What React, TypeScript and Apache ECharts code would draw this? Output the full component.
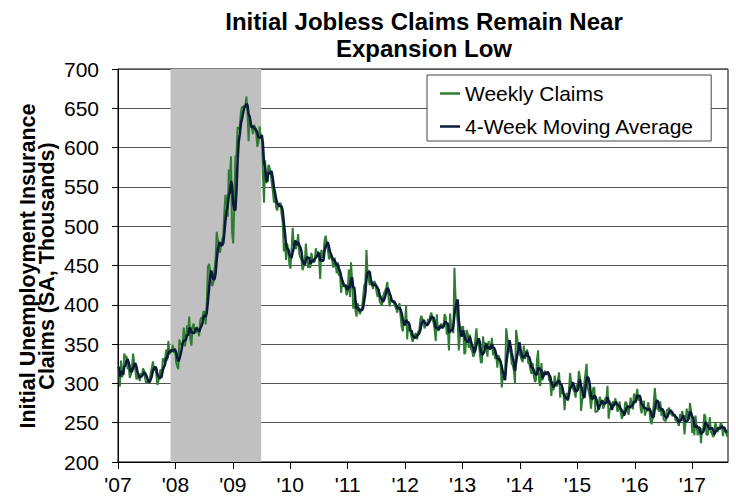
import React, { useEffect, useRef } from "react";
import * as echarts from "echarts";

// Weekly initial jobless claims (SA, thousands), week-ending Saturdays from 2007-01-06
const claims2007 = [321, 296, 329, 308, 312, 338, 332, 335, 318, 322, 307, 311, 321, 338, 326, 318, 305, 308, 311, 303, 313, 310, 319, 316, 306, 300, 303, 301, 303, 313, 320, 328, 316, 321, 313, 298, 303, 311, 318, 307, 332, 327, 330, 343, 329, 354, 337, 341, 340, 349, 339, 345];
const claims2008 = [327, 322, 318, 356, 349, 350, 349, 371, 347, 356, 374, 366, 385, 357, 348, 372, 376, 368, 364, 372, 367, 360, 380, 384, 382, 392, 390, 375, 404, 448, 452, 444, 431, 424, 429, 446, 459, 493, 482, 477, 466, 477, 483, 488, 519, 540, 533, 512, 572, 558, 589, 492];
const claims2009 = [478, 524, 588, 591, 626, 623, 627, 645, 652, 651, 654, 652, 665, 645, 608, 640, 628, 625, 617, 629, 625, 617, 601, 608, 627, 613, 616, 565, 530, 584, 555, 558, 578, 575, 568, 555, 545, 530, 540, 524, 520, 529, 527, 530, 514, 505, 468, 479, 457, 478, 470, 452];
const claims2010 = [446, 470, 498, 475, 480, 471, 478, 490, 465, 460, 457, 444, 449, 455, 478, 460, 447, 455, 447, 466, 458, 454, 455, 472, 466, 468, 458, 433, 470, 460, 465, 482, 488, 478, 470, 458, 461, 465, 455, 447, 460, 452, 440, 454, 437, 440, 415, 432, 423, 425, 422, 412];
const claims2011 = [418, 445, 410, 454, 430, 395, 408, 393, 385, 402, 395, 388, 392, 396, 410, 425, 428, 470, 440, 432, 425, 428, 425, 420, 430, 428, 418, 410, 420, 404, 402, 399, 410, 415, 418, 422, 429, 410, 398, 408, 405, 404, 402, 398, 395, 390, 398, 402, 385, 372, 366, 380, 378];
const claims2012 = [399, 356, 378, 368, 365, 358, 353, 359, 362, 364, 356, 366, 368, 382, 386, 380, 375, 370, 376, 374, 382, 380, 386, 390, 382, 377, 368, 354, 388, 367, 368, 372, 376, 372, 370, 388, 385, 362, 370, 342, 389, 372, 367, 364, 447, 410, 393, 377, 342, 361, 365, 372];
const claims2013 = [372, 337, 340, 368, 364, 345, 362, 344, 342, 334, 336, 357, 370, 350, 352, 339, 326, 327, 360, 345, 352, 346, 334, 354, 343, 345, 358, 336, 343, 331, 335, 320, 336, 332, 322, 295, 309, 305, 308, 370, 358, 350, 342, 339, 325, 323, 316, 300, 368, 358, 345, 338];
const claims2014 = [335, 330, 327, 348, 331, 339, 343, 326, 325, 318, 312, 326, 311, 302, 304, 331, 342, 300, 297, 326, 304, 312, 316, 312, 314, 315, 304, 302, 284, 303, 291, 310, 300, 296, 305, 314, 282, 295, 287, 288, 266, 284, 288, 278, 292, 313, 301, 296, 292, 289, 282, 298];
const claims2015 = [298, 316, 308, 265, 279, 282, 301, 313, 325, 295, 289, 282, 268, 281, 294, 295, 263, 265, 264, 275, 283, 276, 279, 268, 271, 282, 281, 297, 255, 267, 269, 274, 277, 271, 281, 275, 264, 267, 277, 263, 255, 259, 260, 276, 276, 271, 260, 269, 282, 272, 267, 287];
const claims2016 = [276, 284, 293, 278, 285, 269, 262, 272, 278, 259, 265, 265, 276, 267, 253, 248, 257, 274, 294, 278, 268, 267, 264, 277, 259, 268, 254, 253, 252, 266, 267, 269, 262, 261, 259, 259, 260, 252, 254, 249, 246, 261, 258, 265, 254, 235, 251, 268, 258, 254, 275, 265, 237];
const claims2017 = [247, 234, 259, 246, 234, 239, 244, 224, 243, 241, 261, 258, 235, 234, 243, 257, 238, 236, 232, 234, 250, 245, 238, 242, 244, 250, 247, 233, 245, 240, 236, 232];

const firstWeekEnding = "2007-01-06";
const xTickLabels = ["'07", "'08", "'09", "'10", "'11", "'12", "'13", "'14", "'15", "'16", "'17"];
const firstTickYear = 2007;
const recessionStart = "2007-12-01";
const recessionEnd = "2009-06-30";
const yTicks = { min: 200, max: 700, step: 50 };

const FONT = '"Liberation Sans", Arial, Helvetica, sans-serif';

function toYearFrac(t: number): number {
  const d = new Date(t);
  const y = d.getUTCFullYear();
  const s = Date.UTC(y, 0, 1);
  const e = Date.UTC(y + 1, 0, 1);
  return y + (t - s) / (e - s);
}

function buildSeries() {
  const all = [
    ...claims2007, ...claims2008, ...claims2009, ...claims2010, ...claims2011, ...claims2012,
    ...claims2013, ...claims2014, ...claims2015, ...claims2016, ...claims2017,
  ];
  const t0 = Date.parse(firstWeekEnding + "T00:00:00Z");
  const week = 7 * 24 * 3600 * 1000;
  const weekly: [number, number][] = [];
  const ma: [number, number][] = [];
  all.forEach((v, i) => {
    const x = toYearFrac(t0 + i * week);
    weekly.push([x, v]);
    const from = Math.max(0, i - 3);
    const win = all.slice(from, i + 1);
    ma.push([x, win.reduce((a, b) => a + b, 0) / win.length]);
  });
  return { weekly, ma, xMax: toYearFrac(t0 + (all.length - 1) * week) + 0.01 };
}

export default function App() {
  const ref = useRef<HTMLDivElement>(null);
  useEffect(() => {
    if (!ref.current) return;
    const chart = echarts.init(ref.current, null, { renderer: "svg" });
    const { weekly, ma, xMax } = buildSeries();
    const recA = toYearFrac(Date.parse(recessionStart + "T00:00:00Z"));
    const recB = toYearFrac(Date.parse(recessionEnd + "T00:00:00Z"));
    chart.setOption({
      animation: false,
      backgroundColor: "#ffffff",
      textStyle: { fontFamily: FONT },
      grid: {
        left: 118, right: 8, top: 69, bottom: 35,
        show: true, borderColor: "#000", borderWidth: 1,
        containLabel: false, outerBoundsMode: "none",
      },
      xAxis: {
        type: "value",
        min: firstTickYear,
        max: xMax,
        interval: 1,
        axisLine: { show: true, lineStyle: { color: "#000", width: 1 } },
        axisTick: { show: true, length: 7, lineStyle: { color: "#000" } },
        axisLabel: {
          fontSize: 21, color: "#000", margin: 12, fontFamily: FONT,
          showMaxLabel: false,
          formatter: (v: number) => {
            const k = Math.round(v - firstTickYear);
            return Math.abs(v - firstTickYear - k) < 1e-6 && xTickLabels[k] ? xTickLabels[k] : "";
          },
        },
        splitLine: { show: false },
      },
      yAxis: {
        type: "value",
        min: yTicks.min, max: yTicks.max, interval: yTicks.step,
        axisLine: { show: true, lineStyle: { color: "#000", width: 1 } },
        axisTick: { show: true, length: 6, lineStyle: { color: "#000" } },
        axisLabel: { fontSize: 21, color: "#000", margin: 19, fontFamily: FONT },
        splitLine: { show: true, lineStyle: { color: "#555", width: 1 } },
      },
      legend: {
        orient: "vertical",
        left: 427, top: 75,
        data: ["Weekly Claims", "4-Week Moving Average"],
        icon: "rect",
        itemWidth: 20, itemHeight: 2.5, itemGap: 12,
        padding: [8, 17, 4, 13],
        backgroundColor: "#fff",
        borderColor: "#444", borderWidth: 1, borderRadius: 0,
        selectedMode: false,
        textStyle: { fontSize: 21, color: "#000", fontFamily: FONT },
      },
      graphic: [
        { type: "text", x: 424, y: 21, style: { text: "Initial Jobless Claims Remain Near", fontSize: 24, fontWeight: "bold", fontFamily: FONT, fill: "#000", align: "center", verticalAlign: "middle" } },
        { type: "text", x: 424, y: 48, style: { text: "Expansion Low", fontSize: 24, fontWeight: "bold", fontFamily: FONT, fill: "#000", align: "center", verticalAlign: "middle" } },
        { type: "text", x: 28, y: 266, rotation: Math.PI / 2, style: { text: "Initial Unemployment Insurance", fontSize: 21.5, fontWeight: "bold", fontFamily: FONT, fill: "#000", align: "center", verticalAlign: "middle" } },
        { type: "text", x: 47, y: 266, rotation: Math.PI / 2, style: { text: "Claims (SA, Thousands)", fontSize: 21.5, fontWeight: "bold", fontFamily: FONT, fill: "#000", align: "center", verticalAlign: "middle" } },
      ],
      series: [
        {
          name: "Recession",
          type: "line",
          data: [],
          silent: true,
          z: 1,
          markArea: {
            silent: true,
            itemStyle: { color: "#c0c0c0" },
            data: [[{ xAxis: recA }, { xAxis: recB }]],
          },
        },
        {
          name: "Weekly Claims",
          type: "line",
          data: weekly,
          showSymbol: false,
          symbol: "none",
          z: 3,
          lineStyle: { color: "#2e7d32", width: 2 },
          itemStyle: { color: "#2e7d32" },
        },
        {
          name: "4-Week Moving Average",
          type: "line",
          data: ma,
          showSymbol: false,
          symbol: "none",
          z: 4,
          lineStyle: { color: "#0c1a3a", width: 2.5 },
          itemStyle: { color: "#0c1a3a" },
        },
      ],
    });
    return () => chart.dispose();
  }, []);
  return (
    <div
      ref={ref}
      style={{ position: "fixed", left: 0, top: 0, width: 736, height: 497, background: "#fff" }}
    />
  );
}
